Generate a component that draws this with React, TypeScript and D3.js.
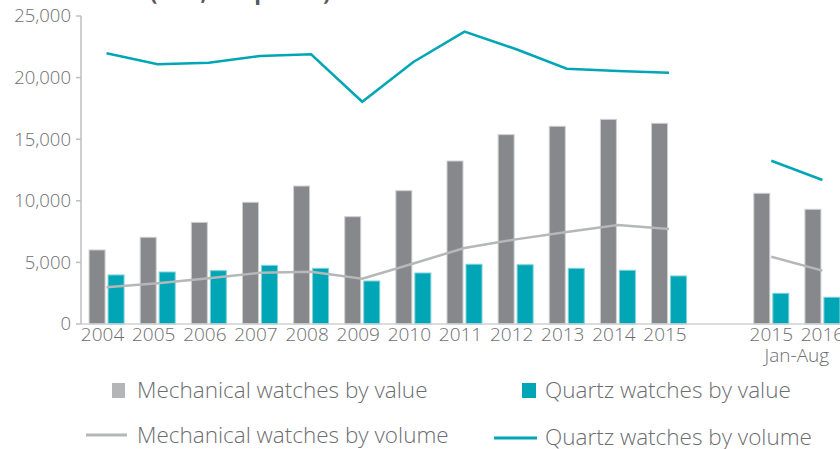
import React from "react";
import { scaleBand, scaleLinear, line, format } from "d3";

// categories (the "" slot is the gap before the Jan-Aug pair)
const categories = ["2004", "2005", "2006", "2007", "2008", "2009", "2010", "2011", "2012", "2013", "2014", "2015", "", "2015 Jan-Aug", "2016 Jan-Aug"];
const tickLabels = ["2004", "2005", "2006", "2007", "2008", "2009", "2010", "2011", "2012", "2013", "2014", "2015", "", "2015", "2016"];

// series
const mechValue = [6010, 7040, 8250, 9880, 11200, 8710, 10820, 13230, 15370, 16050, 16610, 16290, null, 10610, 9310];
const quartzValue = [3980, 4220, 4330, 4760, 4520, 3490, 4140, 4850, 4810, 4520, 4360, 3900, null, 2490, 2170];
const mechVolume = [2980, 3300, 3710, 4160, 4250, 3680, 4910, 6170, 6870, 7470, 8040, 7710, null, 5460, 4330];
const quartzVolume = [21970, 21080, 21210, 21750, 21890, 18040, 21270, 23730, 22320, 20720, 20540, 20400, null, 13250, 11690];

const yTicks = [0, 5000, 10000, 15000, 20000, 25000];

const GRAY = "#86888c";
const TEAL = "#00a6b5";
const LINE_GRAY = "#b5b7b8";
const TEXT = "#6d6e71";
const FONT = "'Open Sans', sans-serif";

const App: React.FC = () => {
  const width = 840;
  const height = 449;

  const x = scaleBand<string>().domain(categories).range([81, 848]).padding(0);
  const y = scaleLinear().domain([0, 25000]).range([324, 16]);
  const cx = (k: string) => (x(k) ?? 0) + x.bandwidth() / 2;

  const mkLine = line<number | null>()
    .defined((d) => d !== null)
    .x((_, i) => cx(categories[i]))
    .y((d) => y(d as number));

  const fmt = format(",");
  const janAugX = (cx(categories[13]) + cx(categories[14])) / 2;

  return (
    <svg
      width={width}
      height={height}
      style={{ position: "absolute", left: 0, top: 0, background: "#fff" }}
      fontFamily={FONT}
    >
      {/* title, mostly cut off at the top */}
      <text x={150} y={0} fontSize={22} fontWeight={700} fill="#58595b">
        (CHF, mn pieces)
      </text>

      {/* bars */}
      {categories.map((c, i) =>
        mechValue[i] === null ? null : (
          <g key={c}>
            <rect
              x={cx(c) - 17.5}
              y={y(mechValue[i] as number)}
              width={16}
              height={y(0) - y(mechValue[i] as number)}
              fill={GRAY}
              stroke="#cfd0d1"
              strokeWidth={1}
            />
            <rect
              x={cx(c) + 1.5}
              y={y(quartzValue[i] as number)}
              width={16}
              height={y(0) - y(quartzValue[i] as number)}
              fill={TEAL}
              stroke="#7fd2da"
              strokeWidth={1}
            />
          </g>
        )
      )}

      {/* lines */}
      <path d={mkLine(mechVolume) ?? ""} fill="none" stroke={LINE_GRAY} strokeWidth={2.5} />
      <path d={mkLine(quartzVolume) ?? ""} fill="none" stroke={TEAL} strokeWidth={2.5} />

      {/* axes */}
      <line x1={81} x2={840} y1={y(0)} y2={y(0)} stroke="#cfd0d1" strokeWidth={1.5} />
      <line x1={81} x2={81} y1={y(25000)} y2={y(0)} stroke="#bcbec0" strokeWidth={1.5} />
      {yTicks.map((t) => (
        <g key={t}>
          <line x1={76} x2={81} y1={y(t)} y2={y(t)} stroke="#bcbec0" strokeWidth={1.5} />
          <text x={71} y={y(t)} dy="0.35em" textAnchor="end" fontSize={18.5} fontWeight={300} fill={TEXT}>
            {fmt(t)}
          </text>
        </g>
      ))}
      {categories.map((c, i) =>
        tickLabels[i] === "" ? null : (
          <text
            key={"l" + c}
            x={cx(c) - (i < 12 ? 4 : 0)}
            y={341}
            textAnchor="middle"
            fontSize={19}
            fontWeight={300}
            fill={TEXT}
          >
            {tickLabels[i]}
          </text>
        )
      )}
      <text x={janAugX} y={362} textAnchor="middle" fontSize={19} fontWeight={300} fill={TEXT}>
        Jan-Aug
      </text>

      {/* legend */}
      <rect x={112} y={383} width={13} height={15} fill="#b3b5b6" />
      <text x={137} y={398} fontSize={22.5} fontWeight={300} fill={TEXT}>
        Mechanical watches by value
      </text>
      <rect x={522} y={383} width={14} height={15} fill={TEAL} />
      <text x={545} y={398} fontSize={22.5} fontWeight={300} fill={TEXT}>
        Quartz watches by value
      </text>
      <line x1={86} x2={127} y1={435} y2={435} stroke={LINE_GRAY} strokeWidth={3} />
      <text x={137} y={443} fontSize={22.5} fontWeight={300} fill={TEXT}>
        Mechanical watches by volume
      </text>
      <line x1={494} x2={537} y1={438} y2={438} stroke={TEAL} strokeWidth={3} />
      <text x={545} y={445} fontSize={22.5} fontWeight={300} fill={TEXT}>
        Quartz watches by volume
      </text>
    </svg>
  );
};

export default App;
